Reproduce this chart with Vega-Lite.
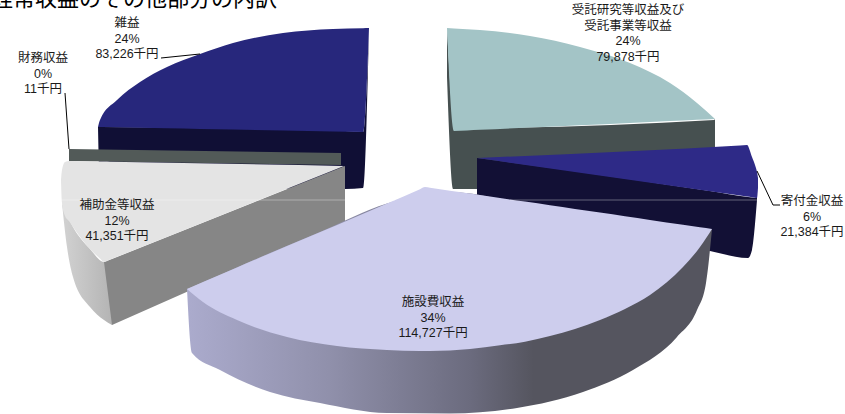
{
  "$schema": "https://vega.github.io/schema/vega-lite/v6.json",
  "width": 845,
  "height": 414,
  "padding": 0,
  "autosize": {"type": "none"},
  "background": "white",
  "config": {"view": {"stroke": null}},
  "datasets": {
    "faces": [
      {"face": "受託側面", "u": 447, "v": 28, "v2": 77},
      {"face": "受託側面", "u": 453, "v": 120, "v2": 189},
      {"face": "受託側面", "u": 454, "v": 128, "v2": 189},
      {"face": "受託側面", "u": 714, "v": 120, "v2": 178},
      {"face": "受託側面", "u": 715, "v": 119, "v2": 150},

      {"face": "受託上面", "u": 447, "v": 28, "v2": 28},
      {"face": "受託上面", "u": 454, "v": 28.5, "v2": 131},
      {"face": "受託上面", "u": 480, "v": 30, "v2": 129.8},
      {"face": "受託上面", "u": 530, "v": 36, "v2": 127.5},
      {"face": "受託上面", "u": 580, "v": 47, "v2": 125.2},
      {"face": "受託上面", "u": 630, "v": 63, "v2": 122.9},
      {"face": "受託上面", "u": 670, "v": 83, "v2": 121.1},
      {"face": "受託上面", "u": 697, "v": 103, "v2": 119.8},
      {"face": "受託上面", "u": 715, "v": 119, "v2": 119},

      {"face": "雑益側面", "u": 98, "v": 127, "v2": 127},
      {"face": "雑益側面", "u": 100, "v": 127, "v2": 186},
      {"face": "雑益側面", "u": 345, "v": 131, "v2": 189},
      {"face": "雑益側面", "u": 363, "v": 132, "v2": 188},
      {"face": "雑益側面", "u": 369, "v": 28, "v2": 28},

      {"face": "雑益上面", "u": 98, "v": 127, "v2": 127},
      {"face": "雑益上面", "u": 100, "v": 120, "v2": 127},
      {"face": "雑益上面", "u": 117, "v": 100, "v2": 127.3},
      {"face": "雑益上面", "u": 140, "v": 82, "v2": 127.8},
      {"face": "雑益上面", "u": 167, "v": 67, "v2": 128.3},
      {"face": "雑益上面", "u": 200, "v": 54, "v2": 128.9},
      {"face": "雑益上面", "u": 233, "v": 43, "v2": 129.5},
      {"face": "雑益上面", "u": 283, "v": 33, "v2": 130.5},
      {"face": "雑益上面", "u": 333, "v": 29, "v2": 131.4},
      {"face": "雑益上面", "u": 363, "v": 28.2, "v2": 132},
      {"face": "雑益上面", "u": 369, "v": 28, "v2": 28},

      {"face": "財務側面", "u": 69, "v": 149, "v2": 161},
      {"face": "財務側面", "u": 341, "v": 153, "v2": 165},

      {"face": "寄付金側面", "u": 477, "v": 158, "v2": 195},
      {"face": "寄付金側面", "u": 710, "v": 191, "v2": 251},
      {"face": "寄付金側面", "u": 748, "v": 197, "v2": 258},
      {"face": "寄付金側面", "u": 752, "v": 197.5, "v2": 250},
      {"face": "寄付金側面", "u": 757, "v": 198, "v2": 200},

      {"face": "寄付金上面", "u": 477, "v": 158, "v2": 158},
      {"face": "寄付金上面", "u": 740, "v": 145.4, "v2": 195.6},
      {"face": "寄付金上面", "u": 747, "v": 145, "v2": 196.6},
      {"face": "寄付金上面", "u": 752, "v": 157, "v2": 197.3},
      {"face": "寄付金上面", "u": 755, "v": 165, "v2": 197.7},
      {"face": "寄付金上面", "u": 757, "v": 172, "v2": 198},
      {"face": "寄付金上面", "u": 758, "v": 178, "v2": 188},

      {"face": "補助金曲面", "u": 62, "v": 203, "v2": 203},
      {"face": "補助金曲面", "u": 67, "v": 215, "v2": 247},
      {"face": "補助金曲面", "u": 73, "v": 227, "v2": 277},
      {"face": "補助金曲面", "u": 90, "v": 249, "v2": 307},
      {"face": "補助金曲面", "u": 104, "v": 262, "v2": 320},
      {"face": "補助金曲面", "u": 112, "v": 262, "v2": 325},

      {"face": "補助金側面", "u": 104, "v": 262, "v2": 262},
      {"face": "補助金側面", "u": 112, "v": 259, "v2": 325},
      {"face": "補助金側面", "u": 345, "v": 166, "v2": 222},

      {"face": "補助金上面", "u": 61, "v": 180, "v2": 180},
      {"face": "補助金上面", "u": 62, "v": 170, "v2": 203},
      {"face": "補助金上面", "u": 65, "v": 162, "v2": 216},
      {"face": "補助金上面", "u": 69, "v": 161, "v2": 221},
      {"face": "補助金上面", "u": 73, "v": 161.1, "v2": 227},
      {"face": "補助金上面", "u": 90, "v": 161.4, "v2": 249},
      {"face": "補助金上面", "u": 100, "v": 161.6, "v2": 258.5},
      {"face": "補助金上面", "u": 104, "v": 161.6, "v2": 262},
      {"face": "補助金上面", "u": 110, "v": 161.7, "v2": 259.6},
      {"face": "補助金上面", "u": 344, "v": 166, "v2": 166},

      {"face": "施設費側面", "u": 187, "v": 289, "v2": 289},
      {"face": "施設費側面", "u": 192, "v": 287, "v2": 353},
      {"face": "施設費側面", "u": 220, "v": 275, "v2": 370},
      {"face": "施設費側面", "u": 270, "v": 253, "v2": 392},
      {"face": "施設費側面", "u": 320, "v": 232, "v2": 403},
      {"face": "施設費側面", "u": 387, "v": 203.5, "v2": 413},
      {"face": "施設費側面", "u": 450, "v": 192, "v2": 413.5},
      {"face": "施設費側面", "u": 517, "v": 202, "v2": 408},
      {"face": "施設費側面", "u": 583, "v": 212, "v2": 392},
      {"face": "施設費側面", "u": 633, "v": 219, "v2": 370},
      {"face": "施設費側面", "u": 677, "v": 225, "v2": 337},
      {"face": "施設費側面", "u": 697, "v": 228, "v2": 310},
      {"face": "施設費側面", "u": 706, "v": 229, "v2": 283},
      {"face": "施設費側面", "u": 712, "v": 229, "v2": 229},

      {"face": "施設費上面", "u": 187, "v": 289, "v2": 289},
      {"face": "施設費上面", "u": 203, "v": 282, "v2": 302},
      {"face": "施設費上面", "u": 237, "v": 267.5, "v2": 320},
      {"face": "施設費上面", "u": 287, "v": 246, "v2": 337},
      {"face": "施設費上面", "u": 337, "v": 225, "v2": 346},
      {"face": "施設費上面", "u": 387, "v": 203.5, "v2": 350},
      {"face": "施設費上面", "u": 420, "v": 189.2, "v2": 351},
      {"face": "施設費上面", "u": 425, "v": 187, "v2": 351},
      {"face": "施設費上面", "u": 430, "v": 187.7, "v2": 351},
      {"face": "施設費上面", "u": 470, "v": 193.6, "v2": 349},
      {"face": "施設費上面", "u": 500, "v": 198, "v2": 345.3},
      {"face": "施設費上面", "u": 525, "v": 201.6, "v2": 341.8},
      {"face": "施設費上面", "u": 550, "v": 205.3, "v2": 336},
      {"face": "施設費上面", "u": 575, "v": 209, "v2": 329},
      {"face": "施設費上面", "u": 600, "v": 212.6, "v2": 320},
      {"face": "施設費上面", "u": 625, "v": 216.3, "v2": 309},
      {"face": "施設費上面", "u": 650, "v": 220, "v2": 295},
      {"face": "施設費上面", "u": 683, "v": 224.8, "v2": 267},
      {"face": "施設費上面", "u": 700, "v": 227.3, "v2": 247},
      {"face": "施設費上面", "u": 712, "v": 229, "v2": 229}
    ],
    "items": [
      {"name": "受託研究等収益及び\n受託事業等収益", "ratio": 0.24, "amount": 79878, "u": 628, "v": 10},
      {"name": "寄付金収益", "ratio": 0.06, "amount": 21384, "u": 812, "v": 201},
      {"name": "施設費収益", "ratio": 0.34, "amount": 114727, "u": 433, "v": 302},
      {"name": "補助金等収益", "ratio": 0.12, "amount": 41351, "u": 117, "v": 205},
      {"name": "財務収益", "ratio": 0.0, "amount": 11, "u": 43, "v": 58},
      {"name": "雑益", "ratio": 0.24, "amount": 83226, "u": 127, "v": 23}
    ],
    "leaders": [
      {"to": "雑益", "u": 161, "v": 58},
      {"to": "雑益", "u": 200, "v": 54},
      {"to": "財務収益", "u": 65, "v": 93},
      {"to": "財務収益", "u": 69, "v": 149},
      {"to": "寄付金収益", "u": 757, "v": 171},
      {"to": "寄付金収益", "u": 773, "v": 205},
      {"to": "寄付金収益", "u": 780, "v": 205}
    ]
  },
  "encoding": {
    "x": {"field": "u", "type": "quantitative", "axis": null, "scale": {"domain": [0, 845], "nice": false, "zero": false}},
    "y": {"field": "v", "type": "quantitative", "axis": null, "scale": {"domain": [414, 0], "nice": false, "zero": false}}
  },
  "layer": [
    {
      "data": {"name": "faces"},
      "transform": [{"filter": {"field": "face", "oneOf": ["受託側面", "受託上面", "雑益側面", "雑益上面", "財務側面", "寄付金側面", "寄付金上面"]}}],
      "mark": {"type": "area", "orient": "vertical", "interpolate": "monotone"},
      "encoding": {
        "y2": {"field": "v2"},
        "color": {
          "field": "face", "type": "nominal", "legend": null,
          "scale": {
            "domain": ["受託側面", "受託上面", "雑益側面", "雑益上面", "財務側面", "寄付金側面", "寄付金上面", "補助金側面", "補助金上面", "施設費上面"],
            "range": ["#465050", "#a3c4c6", "#100f35", "#27277c", "#525a58", "#121035", "#2e2a87", "#868686", "#e4e4e4", "#cdcded"]
          }
        }
      }
    },
    {
      "data": {"name": "faces"},
      "transform": [{"filter": {"field": "face", "equal": "補助金曲面"}}],
      "mark": {
        "type": "area", "orient": "vertical", "interpolate": "monotone",
        "color": {"gradient": "linear", "x1": 0, "y1": 0, "x2": 1, "y2": 0, "stops": [{"offset": 0, "color": "#d2d2d2"}, {"offset": 1, "color": "#b4b4b4"}]}
      },
      "encoding": {"y2": {"field": "v2"}}
    },
    {
      "data": {"name": "faces"},
      "transform": [{"filter": {"field": "face", "equal": "補助金側面"}}],
      "mark": {"type": "area", "orient": "vertical"},
      "encoding": {
        "y2": {"field": "v2"},
        "color": {"field": "face", "type": "nominal", "legend": null}
      }
    },
    {
      "data": {"name": "faces"},
      "transform": [{"filter": {"field": "face", "equal": "補助金上面"}}],
      "mark": {"type": "area", "orient": "vertical", "interpolate": "monotone"},
      "encoding": {
        "y2": {"field": "v2"},
        "color": {"field": "face", "type": "nominal", "legend": null}
      }
    },
    {
      "data": {"name": "faces"},
      "transform": [{"filter": {"field": "face", "equal": "施設費側面"}}],
      "mark": {
        "type": "area", "orient": "vertical", "interpolate": "monotone",
        "color": {
          "gradient": "linear", "x1": 0, "y1": 0, "x2": 1, "y2": 0,
          "stops": [
            {"offset": 0, "color": "#ababcd"},
            {"offset": 0.27, "color": "#9090ab"},
            {"offset": 0.54, "color": "#6b6b7e"},
            {"offset": 0.66, "color": "#55555f"},
            {"offset": 1, "color": "#55555f"}
          ]
        }
      },
      "encoding": {"y2": {"field": "v2"}}
    },
    {
      "data": {"name": "faces"},
      "transform": [{"filter": {"field": "face", "equal": "施設費上面"}}],
      "mark": {"type": "area", "orient": "vertical", "interpolate": "monotone"},
      "encoding": {
        "y2": {"field": "v2"},
        "color": {"field": "face", "type": "nominal", "legend": null}
      }
    },
    {
      "data": {"values": [{"u": 40, "u2": 395, "v": 200}, {"u": 510, "u2": 757, "v": 200}]},
      "mark": {"type": "rule", "color": "white", "opacity": 0.35, "strokeWidth": 1},
      "encoding": {"x2": {"field": "u2"}}
    },
    {
      "data": {"name": "leaders"},
      "mark": {"type": "line", "color": "#000000", "strokeWidth": 1},
      "encoding": {"detail": {"field": "to"}}
    },
    {
      "data": {"name": "items"},
      "transform": [{"calculate": "datum.name + '\\n' + format(datum.ratio, '.0%') + '\\n' + format(datum.amount, ',') + '千円'", "as": "label"}],
      "mark": {"type": "text", "font": "Liberation Sans, Noto Sans CJK JP", "fontSize": 12.5, "lineHeight": 15.5, "lineBreak": "\n", "align": "center", "baseline": "middle", "color": "#1a1a1a"},
      "encoding": {"text": {"field": "label"}}
    },
    {
      "data": {"values": [{"caption": "経常収益のその他部分の内訳", "u": 277, "v": 6}]},
      "mark": {"type": "text", "font": "Noto Sans CJK JP", "fontSize": 22, "align": "right", "baseline": "alphabetic", "color": "#000000"},
      "encoding": {"text": {"field": "caption"}}
    }
  ]
}
